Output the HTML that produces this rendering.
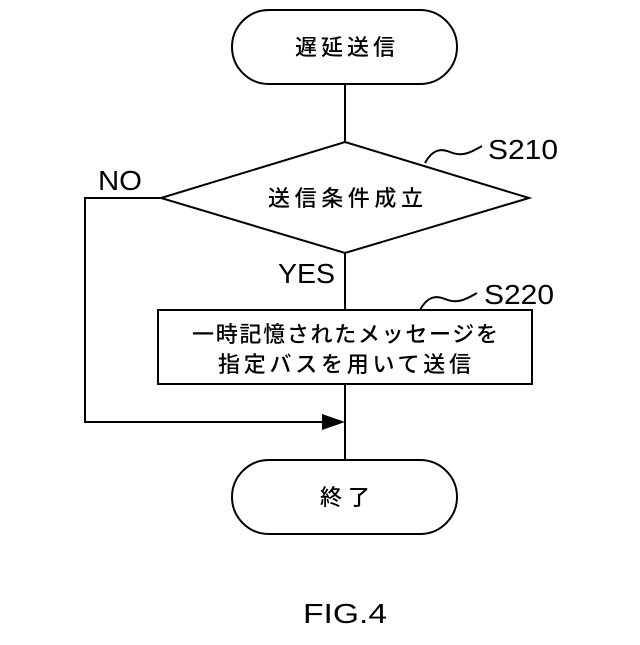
<!DOCTYPE html>
<html><head><meta charset="utf-8"><style>body{margin:0;background:#fff}</style></head><body>
<svg width="640" height="640" viewBox="0 0 640 640" xmlns="http://www.w3.org/2000/svg" font-family="'Liberation Sans','Noto Sans CJK JP',sans-serif">
<g fill="none" stroke="#000" stroke-width="2">
<rect x="232" y="10" width="225" height="74" rx="37"/>
<line x1="345" y1="84" x2="345" y2="142"/>
<polygon points="345,142 529,198 345,253 161,198"/>
<line x1="345" y1="253" x2="345" y2="310"/>
<rect x="158" y="310" width="374" height="74"/>
<line x1="345" y1="384" x2="345" y2="460"/>
<polyline points="161,198 85,198 85,422 322,422"/>
<rect x="232" y="460" width="225" height="74" rx="37"/>
<path d="M425,163 C432,150 440,148 450,152 C462,157 470,153 482,146"/>
<path d="M420,310 C427,297 435,295 445,299 C457,304 465,300 477,293"/>
</g>
<polygon points="322,414 345,422 322,430" fill="#000"/>
<g font-size="22" fill="#000" font-weight="500">
<text x="295" y="55" textLength="100" lengthAdjust="spacing">遅延送信</text>
<text x="268" y="206" textLength="155" lengthAdjust="spacing">送信条件成立</text>
<text x="192" y="342" textLength="306" lengthAdjust="spacing">一時記憶されたメッセージを</text>
<text x="218" y="372" textLength="253" lengthAdjust="spacing">指定バスを用いて送信</text>
<text x="320" y="505" textLength="50" lengthAdjust="spacing">終了</text>
</g>
<g font-size="28" fill="#000">
<text x="98" y="190" textLength="44" lengthAdjust="spacingAndGlyphs">NO</text>
<text x="278" y="283" textLength="57" lengthAdjust="spacingAndGlyphs">YES</text>
<text x="488" y="159" textLength="70" lengthAdjust="spacingAndGlyphs">S210</text>
<text x="484" y="304" textLength="70" lengthAdjust="spacingAndGlyphs">S220</text>
<text x="303" y="623" textLength="84" lengthAdjust="spacingAndGlyphs">FIG.4</text>
</g>
</svg>
</body></html>
